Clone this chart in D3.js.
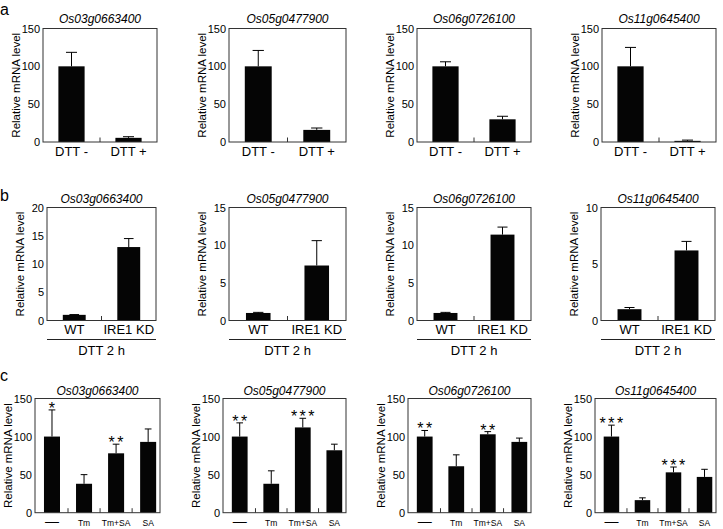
<!DOCTYPE html>
<html><head><meta charset="utf-8">
<script src="https://cdn.jsdelivr.net/npm/d3@7"></script>
<style>
body{margin:0;background:#fff}
svg{display:block}
text{font-family:"Liberation Sans",Arial,Helvetica,sans-serif;fill:#000}
</style>
</head><body>
<svg id="chart" width="723" height="529"></svg>
<script>
// ---------- DATA ----------
const genes = ["Os03g0663400", "Os05g0477900", "Os06g0726100", "Os11g0645400"];
const yLabel = "Relative mRNA level";
const panelLetters = ["a", "b", "c"];

// Row a: DTT treatment
const catsA = ["DTT -", "DTT +"];
const meanA = [[100, 5.5], [100, 16], [100, 30], [100, 1.5]];
const errA  = [[18.5, 1.5], [21, 2.5], [6, 4], [25, 1]];
const yMaxA = [150, 150, 150, 150];
const ticksA = [0, 50, 100, 150];

// Row b: WT vs IRE1 KD (DTT 2 h)
const catsB = ["WT", "IRE1 KD"];
const meanB = [[1, 13], [1, 7.3], [1, 11.4], [1, 6.2]];
const errB  = [[0.05, 1.5], [0.08, 3.3], [0.08, 1.0], [0.15, 0.8]];
const yMaxB = [20, 15, 15, 10];
const ticksB = [[0, 5, 10, 15, 20], [0, 5, 10, 15], [0, 5, 10, 15], [0, 5, 10]];
const groupLabelB = "DTT 2 h";

// Row c: Tm / SA treatments
const catsC = ["—", "Tm", "Tm+SA", "SA"];
const meanC = [[100, 38, 78, 93], [100, 38, 112, 82], [100, 61, 103, 93], [100, 16.5, 53, 47]];
const errC  = [[35, 12, 12, 17], [18, 17, 12, 8], [8, 15, 3.5, 5], [15, 3, 7, 10]];
const starsC = [["*", "", "**", ""], ["**", "", "***", ""], ["**", "", "**", ""], ["***", "", "***", ""]];
const yMaxC = [150, 150, 150, 150];
const ticksC = [0, 50, 100, 150];

// ---------- LAYOUT ----------
const rows = [
  { top: 28.5, bottom: 142, xs: [[43, 157], [229, 346], [417, 531], [602, 716]],
    pI: 0.54, pO: 0.27, align: 0.5, catFont: 13, tickFont: 11, titleGap: 5.5, letterY: 14.5 },
  { top: 207.5, bottom: 320.5, xs: [[47, 156], [229, 346], [417, 531], [601, 715]],
    pI: 0.58, pO: 0.29, align: 0.5, catFont: 13, tickFont: 11, titleGap: 5, letterY: 201 },
  { top: 398.5, bottom: 512.7, xs: [[35, 160], [223, 346], [408, 531], [595, 716]],
    pI: 0.5, pO: 0.2, align: 0.7, catFont: 8.5, tickFont: 11, titleGap: 3.5, letterY: 381 }
];

const svg = d3.select("#chart");

function drawPanel(row, k, cats, means, errs, yMax, ticks, stars, underline) {
  const [x0, x1] = row.xs[k];
  const y0 = row.top, y1 = row.bottom;
  const g = svg.append("g");
  const x = d3.scaleBand().domain(cats).range([x0, x1])
    .paddingInner(row.pI).paddingOuter(row.pO).align(row.align);
  const y = d3.scaleLinear().domain([0, yMax]).range([y1, y0]);
  const bw = x.bandwidth();

  // bars
  g.selectAll("rect.bar").data(cats).join("rect")
    .attr("class", "bar")
    .attr("x", d => x(d)).attr("width", bw)
    .attr("y", (d, i) => y(means[i]))
    .attr("height", (d, i) => y(0) - y(means[i]))
    .attr("fill", "#050505");

  // error bars (upward)
  const cap = bw * 0.42;
  cats.forEach((c, i) => {
    const cx = x(c) + bw / 2;
    const yt = y(means[i] + errs[i]);
    g.append("line").attr("x1", cx).attr("x2", cx)
      .attr("y1", y(means[i])).attr("y2", yt)
      .attr("stroke", "#000").attr("stroke-width", 1);
    g.append("line").attr("x1", cx - cap / 2).attr("x2", cx + cap / 2)
      .attr("y1", yt).attr("y2", yt)
      .attr("stroke", "#000").attr("stroke-width", 1);
    if (stars && stars[i]) {
      g.append("text").attr("x", cx + 1.2).attr("y", yt + 4)
        .attr("text-anchor", "middle").attr("font-size", 16)
        .attr("letter-spacing", "2.5px").text(stars[i]);
    }
  });

  // frame
  g.append("rect").attr("x", x0).attr("y", y0)
    .attr("width", x1 - x0).attr("height", y1 - y0)
    .attr("fill", "none").attr("stroke", "#333").attr("stroke-width", 1);

  // inward ticks between categories
  for (let i = 1; i < cats.length; i++) {
    const tx = (x(cats[i - 1]) + x(cats[i])) / 2 + bw / 2;
    g.append("line").attr("x1", tx).attr("x2", tx)
      .attr("y1", y1).attr("y2", y1 - 4.5)
      .attr("stroke", "#333").attr("stroke-width", 1);
  }

  // y axis labels
  const ax = g.append("g").attr("transform", `translate(${x0},0)`)
    .call(d3.axisLeft(y).tickValues(ticks).tickSize(0).tickPadding(3));
  ax.select(".domain").remove();
  ax.selectAll("text").attr("font-size", row.tickFont)
    .attr("font-family", '"Liberation Sans",Arial,sans-serif').attr("fill", "#000");
  ax.attr("font-size", null).attr("font-family", null);

  // category labels
  cats.forEach(c => {
    g.append("text").attr("x", x(c) + bw / 2).attr("y", y1 + 13.5)
      .attr("text-anchor", "middle")
      .attr("font-size", c === "—" ? 14 : row.catFont)
      .text(c);
  });

  // title
  g.append("text").attr("x", (x0 + x1) / 2).attr("y", y0 - row.titleGap)
    .attr("text-anchor", "middle").attr("font-size", 12)
    .attr("font-style", "italic").text(genes[k]);

  // y label
  g.append("text")
    .attr("transform", `translate(${x0 - 23},${(y0 + y1) / 2}) rotate(-90)`)
    .attr("text-anchor", "middle").attr("font-size", 11.5).text(yLabel);

  // group underline
  if (underline) {
    g.append("line").attr("x1", x0).attr("x2", x1)
      .attr("y1", y1 + 19).attr("y2", y1 + 19)
      .attr("stroke", "#222").attr("stroke-width", 1);
    g.append("text").attr("x", (x0 + x1) / 2).attr("y", y1 + 34.5)
      .attr("text-anchor", "middle").attr("font-size", 13).text(underline);
  }
}

for (let k = 0; k < 4; k++) {
  drawPanel(rows[0], k, catsA, meanA[k], errA[k], yMaxA[k], ticksA, null, null);
  drawPanel(rows[1], k, catsB, meanB[k], errB[k], yMaxB[k], ticksB[k], null, groupLabelB);
  drawPanel(rows[2], k, catsC, meanC[k], errC[k], yMaxC[k], ticksC, starsC[k], null);
}

rows.forEach((r, i) => {
  svg.append("text").attr("x", 0).attr("y", r.letterY)
    .attr("font-size", 16).text(panelLetters[i]);
});
</script>
</body></html>
